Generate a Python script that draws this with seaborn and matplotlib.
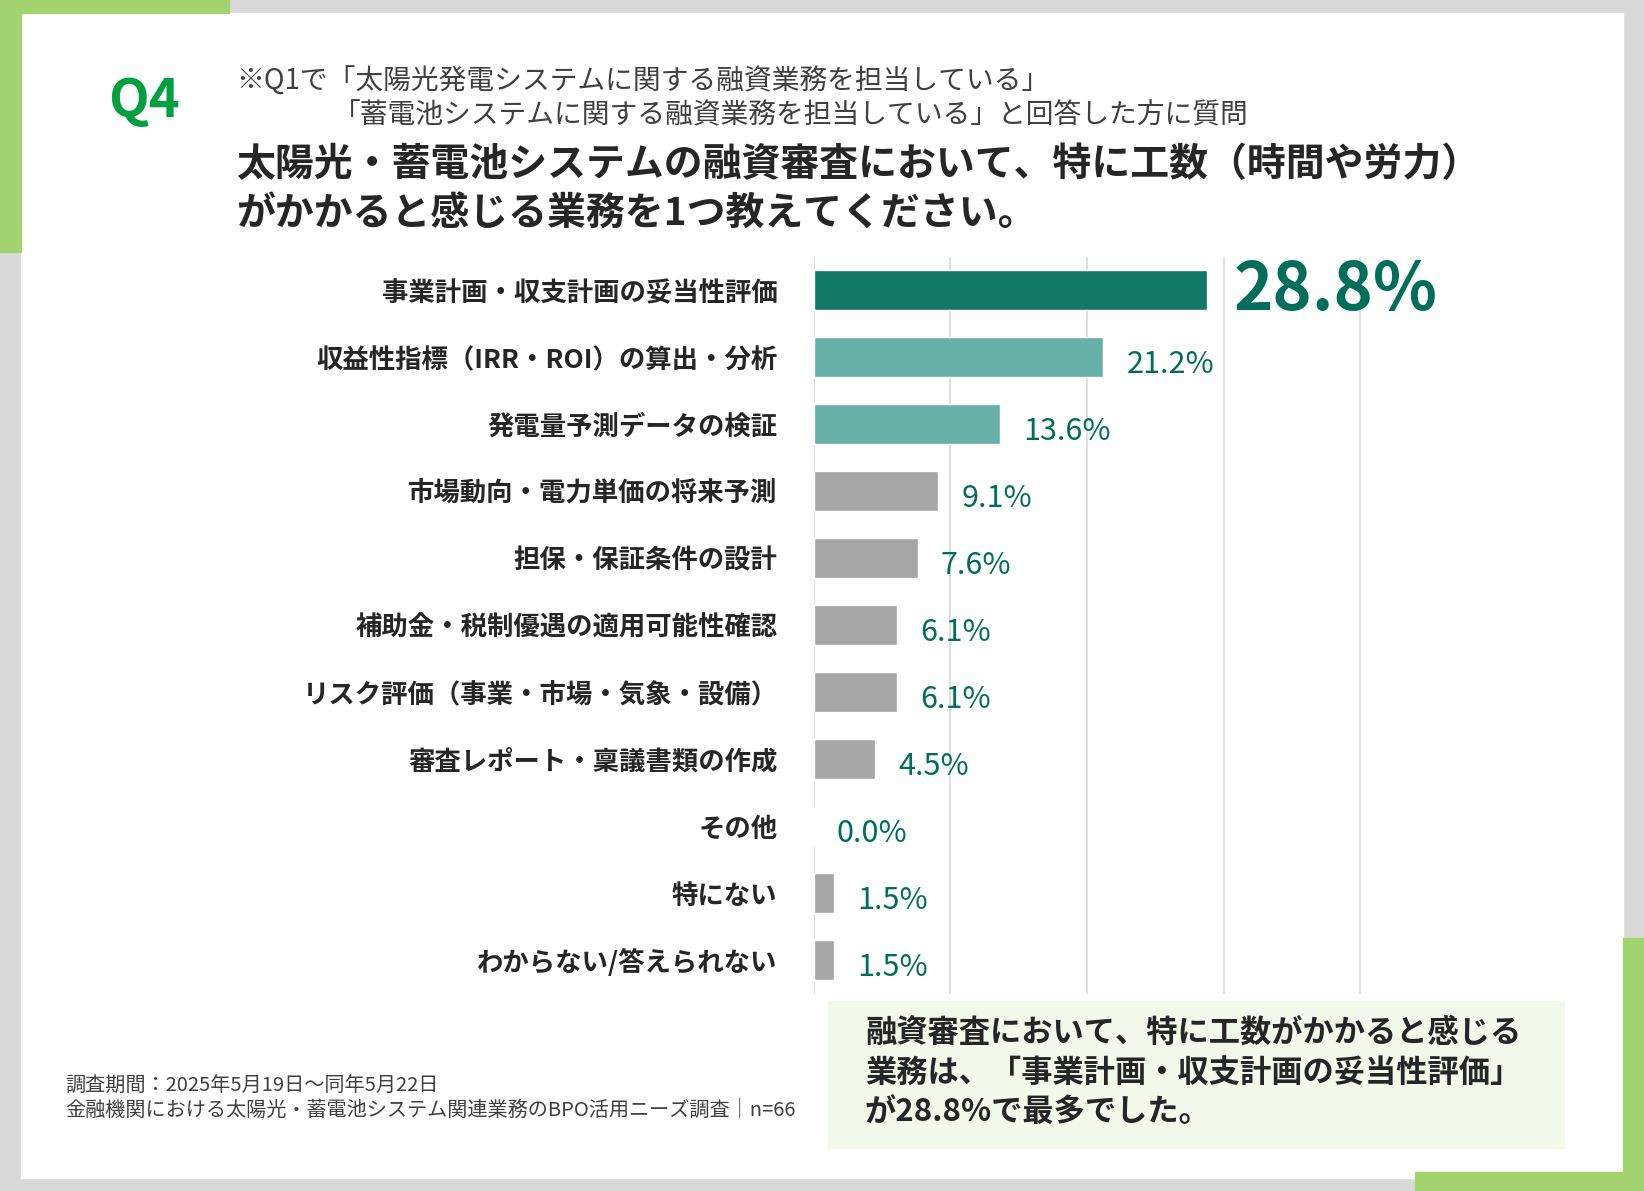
import matplotlib
matplotlib.use("Agg")
import matplotlib.pyplot as plt
import seaborn as sns
import pandas as pd
from matplotlib.patches import Rectangle

categories = ["事業計画・収支計画の妥当性評価", "収益性指標（IRR・ROI）の算出・分析", "発電量予測データの検証",
              "市場動向・電力単価の将来予測", "担保・保証条件の設計", "補助金・税制優遇の適用可能性確認",
              "リスク評価（事業・市場・気象・設備）", "審査レポート・稟議書類の作成", "その他", "特にない",
              "わからない/答えられない"]
values = [28.8, 21.2, 13.6, 9.1, 7.6, 6.1, 6.1, 4.5, 0.0, 1.5, 1.5]
groups = ["top", "hi", "hi", "lo", "lo", "lo", "lo", "lo", "lo", "lo", "lo"]
palette = {"top": "#00896f", "hi": "#5bbcb2", "lo": "#a6a6a6"}

df = pd.DataFrame({"cat": categories, "val": values, "grp": groups})

sns.set_theme(style="white")
plt.rcParams['font.family'] = ['Noto Sans CJK JP', 'DejaVu Sans']

W, H = 1568, 1136
fig = plt.figure(figsize=(16.44, 11.91), dpi=100)
fig.patch.set_facecolor("#d9d9d9")

def fx(x): return x / W
def fy(y): return 1 - y / H

# white panel and green accents
fig.patches.append(Rectangle((fx(20), fy(1124)), fx(1528), (1112) / H, transform=fig.transFigure, color="white", zorder=0))
green = "#a3d36f"
fig.patches.append(Rectangle((0, fy(12)), fx(218), 12 / H, transform=fig.transFigure, color=green, zorder=1))
fig.patches.append(Rectangle((0, fy(240)), fx(20), 240 / H, transform=fig.transFigure, color=green, zorder=1))
fig.patches.append(Rectangle((fx(1350), 0), fx(218), 18 / H, transform=fig.transFigure, color=green, zorder=1))
fig.patches.append(Rectangle((fx(1548), 0), fx(20), 241 / H, transform=fig.transFigure, color=green, zorder=1))
# summary box
fig.patches.append(Rectangle((fx(790), fy(1095)), fx(702), 140 / H, transform=fig.transFigure, color="#f2f8ea", zorder=1))

ax = fig.add_axes([fx(776), fy(948), fx(652), (948 - 245) / H])
ax.set_zorder(5)
ax.set_facecolor("none")
sns.barplot(data=df, x="val", y="cat", hue="grp", palette=palette, dodge=False, width=0.6, legend=False, ax=ax)
ax.set_xlim(0, 50)
ax.set_ylim(10.5, -0.5)
ax.set_xticks([0, 10, 20, 30, 40])
ax.xaxis.grid(True, color="#d9d9d9", lw=1.2)
ax.set_axisbelow(True)
ax.tick_params(axis="x", labelbottom=False, length=0)
ax.tick_params(axis="y", length=0, pad=26)
for lab in ax.get_yticklabels():
    lab.set_fontsize(19)
    lab.set_fontweight("bold")
    lab.set_color("#262626")
ax.set_xlabel("")
ax.set_ylabel("")
for s in ax.spines.values():
    s.set_visible(False)

for i, v in enumerate(values):
    if i == 0:
        ax.text(v + 1.9, i, f"{v}%", fontsize=48, fontweight="bold", color="#006e5a", va="center", ha="left")
    else:
        ax.text(v + 1.7, i + 0.1, f"{v}%", fontsize=22, color="#006e5a", va="center", ha="left")

fig.text(fx(103), fy(97), "Q4", fontsize=38, fontweight="bold", color="#00a040", va="center")
fig.text(fx(225), fy(78), "※Q1で「太陽光発電システムに関する融資業務を担当している」", fontsize=20, color="#404040", va="center")
fig.text(fx(318), fy(110), "「蓄電池システムに関する融資業務を担当している」と回答した方に質問", fontsize=20, color="#404040", va="center")
fig.text(fx(225), fy(157), "太陽光・蓄電池システムの融資審査において、特に工数（時間や労力）", fontsize=28, fontweight="bold", color="#262626", va="center")
fig.text(fx(225), fy(203), "がかかると感じる業務を1つ教えてください。", fontsize=28, fontweight="bold", color="#262626", va="center")

fig.text(fx(62), fy(1036), "調査期間：2025年5月19日～同年5月22日", fontsize=14.5, color="#404040", va="center")
fig.text(fx(62), fy(1059), "金融機関における太陽光・蓄電池システム関連業務のBPO活用ニーズ調査｜n=66", fontsize=14.5, color="#404040", va="center")

fig.text(fx(825), fy(985), "融資審査において、特に工数がかかると感じる", fontsize=22.5, fontweight="bold", color="#262626", va="center")
fig.text(fx(825), fy(1024), "業務は、「事業計画・収支計画の妥当性評価」", fontsize=22.5, fontweight="bold", color="#262626", va="center")
fig.text(fx(825), fy(1061), "が28.8%で最多でした。", fontsize=22.5, fontweight="bold", color="#262626", va="center")

fig.savefig("out.png", dpi=100, facecolor=fig.get_facecolor())
